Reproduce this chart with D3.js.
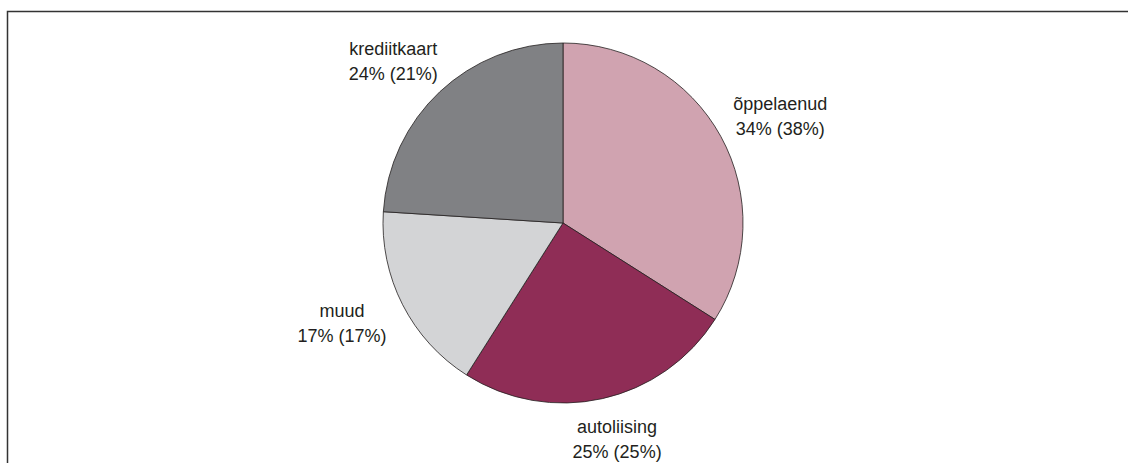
<!doctype html>
<html>
<head>
<meta charset="utf-8">
<script src="https://cdnjs.cloudflare.com/ajax/libs/d3/7.8.5/d3.min.js"></script>
<style>
    html, body { margin: 0; padding: 0; background: #fff; }
    svg { display: block; }
    .label text { font-family: "Liberation Sans", Arial, sans-serif; font-size: 18px; fill: #231f20; }
</style>
</head>
<body>
<script>
    // slices, clockwise from 12 o'clock
    var categories = ["õppelaenud", "autoliising", "muud", "krediitkaart"];
    var shares = [34, 25, 17, 24];
    var sharesPrev = [38, 25, 17, 21];   // values in brackets
    var colors = ["#d0a3b0", "#8f2d56", "#d3d4d6", "#808184"];

    var width = 1128, height = 463;
    var cx = 563, cy = 223, radius = 180;

    var svg = d3.select("body").append("svg")
        .attr("width", width)
        .attr("height", height);

    // frame (runs off the right and bottom edges)
    svg.append("rect")
        .attr("x", 7.5).attr("y", 11.5)
        .attr("width", width).attr("height", height)
        .style("fill", "none")
        .style("stroke", "#333")
        .style("stroke-width", 1.5);

    var data = categories.map(function(c, i) {
        return { name: c, value: shares[i], prev: sharesPrev[i], color: colors[i] };
    });

    var pie = d3.pie().sort(null).value(function(d) { return d.value; });
    var arc = d3.arc().innerRadius(0).outerRadius(radius);
    var unitArc = d3.arc().innerRadius(1).outerRadius(1);

    var g = svg.append("g").attr("transform", "translate(" + cx + "," + cy + ")");

    var arcs = pie(data);

    g.selectAll("path")
        .data(arcs)
        .enter().append("path")
        .attr("d", arc)
        .style("fill", function(d) { return d.data.color; })
        .style("stroke", "#231f20")
        .style("stroke-width", 0.8);

    // labels sit on an ellipse around the pie
    var rx = 248, ry = 222, lineH = 25;
    var label = g.selectAll(".label")
        .data(arcs)
        .enter().append("g")
        .attr("class", "label")
        .attr("transform", function(d) {
            var c = unitArc.centroid(d);
            return "translate(" + (c[0] * rx) + "," + (c[1] * ry) + ")";
        });

    label.append("text")
        .attr("text-anchor", "middle")
        .attr("y", -lineH / 2 + 6)
        .text(function(d) { return d.data.name; });

    label.append("text")
        .attr("text-anchor", "middle")
        .attr("y", lineH / 2 + 6)
        .text(function(d) { return d.data.value + "% (" + d.data.prev + "%)"; });
</script>
</body>
</html>
